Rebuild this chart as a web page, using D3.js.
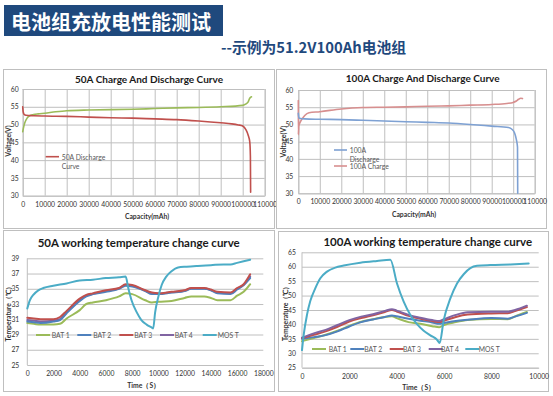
<!DOCTYPE html>
<html><head><meta charset="utf-8">
<script src="https://cdn.jsdelivr.net/npm/d3@7"></script>
<style>
body{margin:0;background:#fff;}
svg{display:block;}
</style>
</head><body>
<svg id="c" width="553" height="396"></svg>
<script>
// ---------- text ----------
const pageTitle = "电池组充放电性能测试";
const pageSubtitle = "--示例为51.2V100Ah电池组";

// ---------- 50A charge / discharge ----------
const capTicks = [0,10000,20000,30000,40000,50000,60000,70000,80000,90000,100000,110000];
const voltTicks = [30,35,40,45,50,55,60];
const cap50Charge  = [0,500,1000,2000,3000,5000,7000,10000,15000,20000,30000,40000,50000,60000,70000,80000,90000,100000,101500,102500,103200,104000];
const volt50Charge = [48.0,49.5,50.6,51.8,52.4,52.8,53.0,53.2,53.6,53.9,54.1,54.2,54.3,54.5,54.7,54.8,55.0,55.4,55.8,56.4,57.4,57.8];
const cap50Dis  = [0,200,600,1500,5000,10000,20000,30000,40000,50000,60000,70000,80000,90000,95000,98000,100000,101500,102500,103200,103500,103600];
const volt50Dis = [55.0,53.6,52.9,52.6,52.5,52.4,52.3,52.1,51.9,51.8,51.6,51.4,51.0,50.5,50.2,49.9,49.6,48.5,47.0,45.2,41.0,31.0];

// ---------- 100A charge / discharge ----------
const cap100Dis  = [0,300,1000,3000,10000,20000,30000,40000,50000,60000,70000,80000,90000,97800,99400,100600,101500,102000,102100];
const volt100Dis = [53.2,51.9,51.7,51.6,51.5,51.4,51.2,51.0,50.8,50.6,50.4,50.0,49.5,49.1,48.6,47.6,45.5,43.4,30.0];
const cap100Chg  = [0,30,200,1000,2000,3000,5000,10000,20000,30000,40000,50000,60000,70000,80000,90000,97000,100000,101500,102500,103500,104300];
const volt100Chg = [56.9,47.0,49.5,50.8,51.8,52.6,53.4,53.7,54.5,54.9,55.0,55.1,55.3,55.4,55.6,55.8,56.1,56.4,56.8,57.3,57.6,57.5];

// ---------- 50A temperature ----------
const time50Ticks = [0,2000,4000,6000,8000,10000,12000,14000,16000,18000];
const temp50Ticks = [25,27,29,31,33,35,37,39];
const time50 = [0,500,1000,2000,2500,3000,4000,4500,5000,6000,7000,7500,8000,9000,9500,10000,11000,12000,12500,13500,14000,14500,15500,16000,16500,17000];
const t50Bat1 = [30.5,30.4,30.3,30.3,30.4,31.1,32.2,33.0,33.2,33.5,34.0,34.4,34.3,33.5,33.2,33.3,33.4,33.8,34.0,34.0,33.8,33.5,33.5,34.1,34.6,35.6];
const t50Bat2 = [30.7,30.6,30.5,30.7,30.9,31.8,33.4,34.0,34.3,34.6,35.0,35.4,35.3,34.7,34.3,34.3,34.5,34.7,35.0,35.0,34.8,34.4,34.3,34.9,35.5,36.4];
const t50Bat3 = [31.2,31.1,31.0,31.0,31.3,32.1,33.7,34.2,34.4,34.8,35.1,35.6,35.5,34.8,34.5,34.4,34.6,34.8,35.1,35.1,34.9,34.6,34.5,35.1,35.6,36.9];
const t50Bat4 = [30.9,30.8,30.7,30.8,31.0,31.9,33.5,34.1,34.35,34.7,35.05,35.5,35.4,34.75,34.4,34.35,34.55,34.75,35.05,35.05,34.85,34.5,34.4,35.0,35.5,36.6];
const time50Mos = [0,200,460,840,1220,1980,3000,4000,5000,6000,7000,7500,7700,7950,8350,8700,9100,9500,9600,9750,10000,10250,10600,11000,11500,12150,13000,14000,15000,15500,16000,17000];
const t50Mos    = [32.4,33.5,34.2,34.8,35.1,35.4,35.7,36.1,36.2,36.4,36.5,36.6,35.1,33.5,31.9,30.9,30.3,29.9,29.8,31.9,34.0,35.5,36.6,37.3,37.8,37.9,38.0,38.1,38.2,38.2,38.4,38.8];

// ---------- 100A temperature ----------
const time100Ticks = [0,2000,4000,6000,8000,10000];
const temp100Ticks = [25,30,35,40,45,50,55,60,65];
const time100 = [0,500,1000,1500,2000,2500,3000,3500,3800,4000,4500,5000,5500,5800,6000,6500,7000,8000,8700,9000,9500];
const t100Bat1 = [34.2,35.3,36.4,37.8,39.5,40.9,41.8,42.6,42.8,42.2,40.8,40.2,39.4,39.0,39.8,40.8,41.5,41.9,41.8,42.8,44.3];
const t100Bat2 = [35.0,35.6,36.3,37.6,39.3,40.8,41.7,42.6,43.1,42.8,42.0,41.3,40.7,40.2,40.5,41.2,41.6,42.2,42.0,42.7,44.0];
const t100Bat3 = [35.2,36.4,37.6,39.2,41.0,42.2,43.2,44.3,45.0,44.5,43.0,42.0,41.2,40.8,41.3,42.6,43.4,43.8,43.9,44.6,46.0];
const t100Bat4 = [35.4,36.9,38.1,39.8,41.5,42.7,43.5,44.7,45.3,44.8,43.3,42.3,41.5,41.2,41.8,43.3,44.2,44.4,44.4,45.0,46.5];
const time100Mos = [0,70,210,350,560,775,1056,1408,1761,2465,3169,3732,4014,4296,4577,4859,5141,5423,5704,5817,5986,6268,6549,6831,7113,7394,7958,8803,9577];
const t100Mos    = [31.1,36.3,43.3,48.1,52.5,56.0,58.3,59.7,60.4,61.4,62.0,62.4,54.2,47.9,43.3,40.1,37.8,36.2,34.7,33.6,41.5,49.0,54.2,57.4,59.5,60.3,60.6,60.8,61.1];

const tempNames = ["BAT 1","BAT 2","BAT 3","BAT 4","MOS T"];
const tempColors = ["#9bbb59","#4f81bd","#c0504d","#8064a2","#4bacc6"];

// ---------- drawing ----------
const svg = d3.select("#c");
const FONT = "Lato, 'Liberation Sans', sans-serif";
const CJK = "'Noto Sans CJK SC', 'Noto Sans', sans-serif";

// header
svg.append("rect").attr("x",4).attr("y",5).attr("width",219).attr("height",31).attr("fill","#1f497d");
svg.append("text").attr("x",11).attr("y",21.5).attr("dominant-baseline","central")
  .attr("font-family",CJK).attr("font-weight","bold").attr("font-size",20).attr("fill","#fff").text(pageTitle);
svg.append("text").attr("x",221).attr("y",46.5).attr("dominant-baseline","central")
  .attr("font-family",CJK).attr("font-weight","bold").attr("font-size",14.8).attr("fill","#1f497d").text(pageSubtitle);

function zip(xs, ys){ return xs.map((v,i)=>[v,ys[i]]); }

function panel(c){
  const g = svg.append("g");
  g.append("rect").attr("x",c.box[0]).attr("y",c.box[1]).attr("width",c.box[2]).attr("height",c.box[3])
    .attr("fill","#fff").attr("stroke","#bfbfbf").attr("stroke-width",1);
  const x = d3.scaleLinear().domain(c.xDomain).range([c.px0,c.px1]);
  const y = d3.scaleLinear().domain(c.yDomain).range([c.py1,c.py0]);
  const ya = g.append("g").attr("transform",`translate(${c.px0},0)`)
    .call(d3.axisLeft(y).tickValues(c.yTicks).tickSize(-(c.px1-c.px0)).tickPadding(c.yPad).tickFormat(d3.format("d")));
  ya.select(".domain").remove();
  ya.selectAll("line").attr("stroke",c.gridColor).attr("stroke-width",1);
  ya.selectAll("text").attr("font-family",FONT).attr("font-size",c.tickSize).attr("fill","#333");
  const xa = g.append("g").attr("transform",`translate(0,${c.py1})`)
    .call(d3.axisBottom(x).tickValues(c.xTicks).tickSize(c.vGrid ? -(c.py1-c.py0) : 0).tickPadding(c.xPad).tickFormat(d3.format("d")));
  xa.select(".domain").attr("stroke",c.gridColor);
  xa.selectAll("line").attr("stroke",c.gridColor).attr("stroke-width",1);
  xa.selectAll("text").attr("font-family",FONT).attr("font-size",c.tickSize).attr("fill","#333");
  if(!c.vGrid){
    g.append("line").attr("x1",c.px0).attr("x2",c.px0).attr("y1",c.py0).attr("y2",c.py1).attr("stroke",c.gridColor);
  }
  g.append("text").attr("x",c.title[1]).attr("y",c.title[2]).attr("text-anchor","middle").attr("dominant-baseline","central")
    .attr("font-family",FONT).attr("font-weight","bold").attr("font-size",c.titleSize).attr("fill","#1a1a1a").text(c.title[0]);
  g.append("text").attr("x",c.xTitle[1]).attr("y",c.xTitle[2]).attr("text-anchor","middle").attr("dominant-baseline","central")
    .attr("font-family",FONT).attr("font-weight","bold").attr("font-size",c.axisTitleSize).attr("fill","#333").text(c.xTitle[0]);
  g.append("text").attr("transform",`translate(${c.yTitle[1]},${c.yTitle[2]}) rotate(-90)`).attr("text-anchor","middle").attr("dominant-baseline","central")
    .attr("font-family",FONT).attr("font-weight","bold").attr("font-size",c.axisTitleSize).attr("fill","#333").text(c.yTitle[0]);
  const line = d3.line().x(d=>x(d[0])).y(d=>y(d[1])).curve(d3.curveMonotoneX);
  c.series.forEach(s=>{
    g.append("path").attr("d",line(zip(s.xs,s.ys))).attr("fill","none").attr("stroke",s.color)
      .attr("stroke-width",c.lineWidth).attr("stroke-linejoin","round").attr("stroke-linecap","round");
  });
  c.legend.forEach(l=>{
    g.append("line").attr("x1",l.x).attr("x2",l.x+l.len).attr("y1",l.y).attr("y2",l.y).attr("stroke",l.color).attr("stroke-width",c.lineWidth);
    l.lines.forEach((t,i)=>{
      g.append("text").attr("x",l.tx).attr("y",l.y+i*l.lh).attr("dominant-baseline","central")
        .attr("font-family",FONT).attr("font-size",c.legendSize).attr("fill","#595959").text(t);
    });
  });
}

// TL
panel({box:[3.5,69.5,271,159], xDomain:[0,110000], yDomain:[30,60], px0:22.7, px1:264.7, py0:89, py1:195.7,
  xTicks:capTicks, yTicks:voltTicks, vGrid:true, gridColor:"#bfbfbf", tickSize:6.8, yPad:4, xPad:6,
  title:["50A Charge And Discharge Curve",149,79], titleSize:10, xTitle:["Capacity(mAh)",147,215.7], yTitle:["Voltage(V)",8,141], axisTitleSize:6.8,
  lineWidth:1.6, legendSize:6.8,
  series:[{xs:cap50Charge,ys:volt50Charge,color:"#9bbb59"},{xs:cap50Dis,ys:volt50Dis,color:"#c0504d"}],
  legend:[{x:45.7,len:13.3,y:156.7,color:"#c0504d",tx:61.7,lh:9.3,lines:["50A Discharge","Curve"]}]
});
// TR
panel({box:[276.5,69.5,270,159], xDomain:[0,110000], yDomain:[30,60], px0:298.3, px1:534.7, py0:90, py1:193.3,
  xTicks:capTicks, yTicks:voltTicks, vGrid:true, gridColor:"#bfbfbf", tickSize:6.8, yPad:5, xPad:6,
  title:["100A Charge And Discharge Curve",422.7,77.7], titleSize:10, xTitle:["Capacity(mAh)",414,214.3], yTitle:["Voltage(V)",282.7,141.7], axisTitleSize:6.8,
  lineWidth:1.6, legendSize:6.8,
  series:[{xs:cap100Chg,ys:volt100Chg,color:"#d78f8f"},{xs:cap100Dis,ys:volt100Dis,color:"#7ea1d3"}],
  legend:[{x:334,len:13,y:150,color:"#7ea1d3",tx:349.7,lh:9.3,lines:["100A","Discharge"]},
          {x:334,len:13,y:166,color:"#d78f8f",tx:349.7,lh:9.3,lines:["100A Charge"]}]
});
// BL
const blLx = [36,77.3,119.3,160,202.7], blTx=[51.7,93.3,134.3,174.7,217.7];
panel({box:[3.5,230.5,271,161], xDomain:[0,18000], yDomain:[25,39], px0:27.3, px1:263.3, py0:258.3, py1:365,
  xTicks:time50Ticks, yTicks:temp50Ticks, vGrid:false, gridColor:"#bfbfbf", tickSize:6.8, yPad:8, xPad:6,
  title:["50A working temperature change curve",138.7,242.7], titleSize:11.5, xTitle:["Time（S）",143.7,385], yTitle:["Temperature（℃）",8.3,312.3], axisTitleSize:6.8,
  lineWidth:2, legendSize:6.8,
  series:[{xs:time50,ys:t50Bat1,color:tempColors[0]},{xs:time50,ys:t50Bat4,color:tempColors[3]},{xs:time50,ys:t50Bat2,color:tempColors[1]},
          {xs:time50,ys:t50Bat3,color:tempColors[2]},{xs:time50Mos,ys:t50Mos,color:tempColors[4]}],
  legend: tempNames.map((n,i)=>({x:blLx[i],len:14,y:335,color:tempColors[i],tx:blTx[i],lh:0,lines:[n]}))
});
// BR
const brLx = [312,350.3,389.7,428.7,465.3], brTx=[328.7,364.3,403,441,478.7];
panel({box:[278.5,231.5,270,160], xDomain:[0,10000], yDomain:[25,65], px0:302, px1:538.7, py0:252.3, py1:367.7,
  xTicks:time100Ticks, yTicks:temp100Ticks, vGrid:false, gridColor:"#bfbfbf", tickSize:6.8, yPad:6, xPad:6,
  title:["100A working temperature change curve",427.8,241.7], titleSize:11.5, xTitle:["Time（S）",418.7,387.3], yTitle:["Temperature（℃）",285.3,311.7], axisTitleSize:6.8,
  lineWidth:2, legendSize:6.8,
  series:[{xs:time100,ys:t100Bat1,color:tempColors[0]},{xs:time100,ys:t100Bat2,color:tempColors[1]},{xs:time100,ys:t100Bat3,color:tempColors[2]},
          {xs:time100,ys:t100Bat4,color:tempColors[3]},{xs:time100Mos,ys:t100Mos,color:tempColors[4]}],
  legend: tempNames.map((n,i)=>({x:brLx[i],len:14,y:349,color:tempColors[i],tx:brTx[i],lh:0,lines:[n]}))
});
</script>
</body></html>
